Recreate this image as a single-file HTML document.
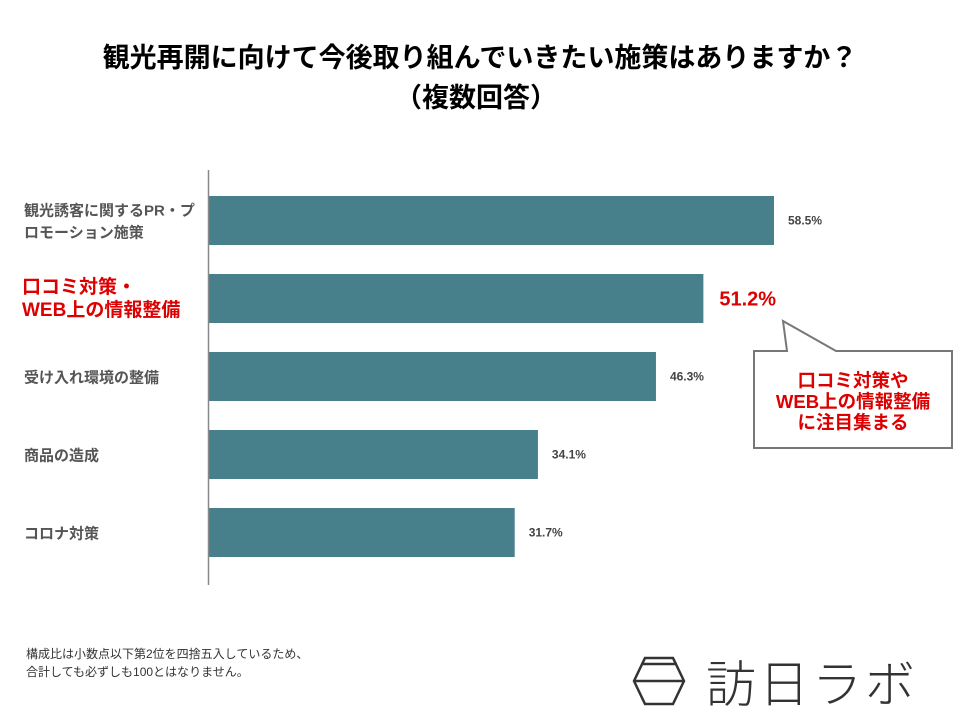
<!DOCTYPE html>
<html><head><meta charset="utf-8">
<style>
body{margin:0;background:#fff;width:960px;height:720px;overflow:hidden;font-family:"Liberation Sans","Noto Sans CJK JP",sans-serif;}
svg text{font-family:"Liberation Sans","Noto Sans CJK JP",sans-serif;}
</style></head><body>
<svg id="chart" width="960" height="720" viewBox="0 0 960 720" xmlns="http://www.w3.org/2000/svg">
<text x="480" y="67" text-anchor="middle" font-size="27" font-weight="bold" fill="#000">観光再開に向けて今後取り組んでいきたい施策はありますか？</text>
<text x="476" y="107" text-anchor="middle" font-size="27" font-weight="bold" fill="#000">（複数回答）</text>
<g id="bars"></g>
<line x1="208.5" y1="170" x2="208.5" y2="585" stroke="#888" stroke-width="1.5"/>
<g>
<path d="M754,351 H787 L783,321 L836,351 H952 V448 H754 Z" fill="#fff" stroke="#777" stroke-width="2"/>
<text x="853" y="387" text-anchor="middle" font-size="18.5" font-weight="bold" fill="#d00">口コミ対策や</text>
<text x="853" y="408" text-anchor="middle" font-size="18.5" font-weight="bold" fill="#d00">WEB上の情報整備</text>
<text x="853" y="429" text-anchor="middle" font-size="18.5" font-weight="bold" fill="#d00">に注目集まる</text>
</g>
<g font-size="12" fill="#333">
<text x="26" y="658">構成比は小数点以下第2位を四捨五入しているため、</text>
<text x="26" y="676">合計しても必ずしも100とはなりません。</text>
</g>
<g>
<path d="M645,658 H673 L684,681 L673,704 H645 L634,681 Z M641,664 H677 M634,681 H684" fill="none" stroke="#333" stroke-width="2.5"/>
<text x="706" y="702" font-size="50" font-weight="300" fill="#333" letter-spacing="3">訪日ラボ</text>
</g>
</svg>
<script>
const categories=["観光誘客に関するPR・プ|ロモーション施策","口コミ対策・|WEB上の情報整備","受け入れ環境の整備","商品の造成","コロナ対策"];
const values=[58.5,51.2,46.3,34.1,31.7];
const highlight=[false,true,false,false,false];
const x0=208, pxPer=566/58.5, yTop=196, step=78, bh=49;
const xs=v=>x0+v*pxPer;
const ys=i=>yTop+i*step;
const ns="http://www.w3.org/2000/svg";
const g=document.getElementById('bars');
categories.forEach((c,i)=>{
  const r=document.createElementNS(ns,'rect');
  r.setAttribute('x',x0);r.setAttribute('y',ys(i));
  r.setAttribute('width',xs(values[i])-x0);r.setAttribute('height',bh);
  r.setAttribute('fill','#47808a');
  
  
  g.appendChild(r);
  const t=document.createElementNS(ns,'text');
  const hl=highlight[i];
  t.setAttribute('x',xs(values[i])+(hl?16:14));
  t.setAttribute('y',ys(i)+bh/2+(hl?7:4));
  t.setAttribute('font-size',hl?20:12);
  t.setAttribute('font-weight','bold');
  t.setAttribute('fill',hl?'#d00':'#444');
  t.textContent=values[i].toFixed(1)+'%';
  
  
  g.appendChild(t);
  const lines=c.split('|');
  lines.forEach((ln,j)=>{
    const l=document.createElementNS(ns,'text');
    l.setAttribute('x',hl?22:24);
    const h=hl?23:22;
    l.setAttribute('y',ys(i)+bh/2+6+(j-(lines.length-1)/2)*h);
    l.setAttribute('font-size',hl?19:15);
    l.setAttribute('font-weight','bold');
    l.setAttribute('fill',hl?'#d00':'#555');
    l.textContent=ln;
    
    
    g.appendChild(l);
  });
});
</script>
</body></html>
